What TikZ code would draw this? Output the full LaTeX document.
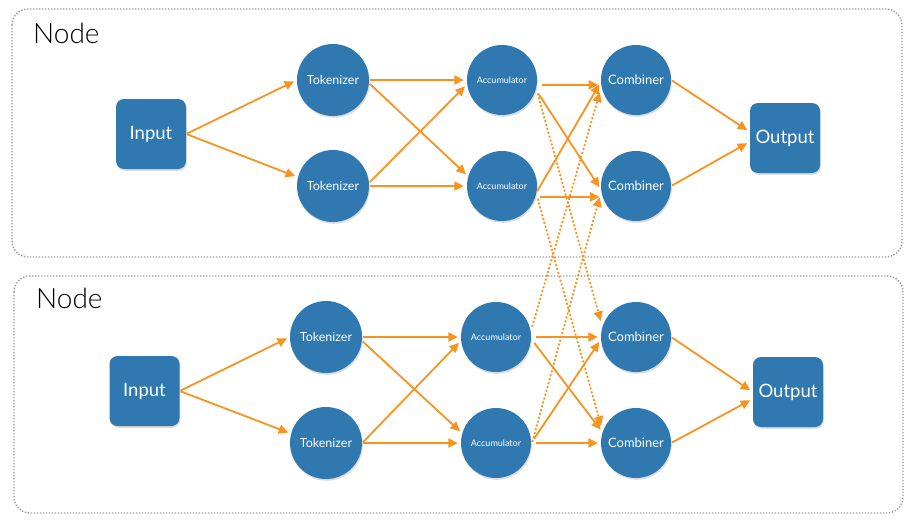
\documentclass[tikz,border=0pt]{standalone}
\usepackage{fontspec}
\setmainfont{Lato}
\newfontfamily\lightfont{Lato Light}
\usetikzlibrary{arrows.meta,shadows}
\definecolor{nodeblue}{RGB}{47,121,176}
\definecolor{arrorange}{RGB}{247,147,30}
\definecolor{framegray}{RGB}{150,150,150}
\tikzset{
  blk/.style={fill=nodeblue, text=white, drop shadow={opacity=0.28, shadow xshift=0.8pt, shadow yshift=-1.8pt}},
  tokc/.style={blk, circle, minimum size=72pt, inner sep=0pt, font=\fontsize{12.5}{14}\selectfont},
  accc/.style={blk, circle, minimum size=70pt, inner sep=0pt, font=\fontsize{9}{10}\selectfont},
  combc/.style={blk, circle, minimum size=70pt, inner sep=0pt, font=\fontsize{13}{15}\selectfont},
  sq/.style={blk, rectangle, rounded corners=8pt, minimum size=70pt, inner sep=0pt, font=\fontsize{18.5}{20}\selectfont},
  frame/.style={draw=framegray, line width=1.4pt, dash pattern=on 1.3pt off 1.7pt, rounded corners=16pt},
  title/.style={anchor=base west, inner sep=0pt, font=\lightfont\fontsize{28}{30}\selectfont},
  conn/.style={draw=arrorange, line width=1.8pt, -{Triangle[length=9.5pt,width=9pt]}, shorten <=1pt, shorten >=3pt},
  gap/.style={shorten <=5pt},
  dconn/.style={conn, dash pattern=on 2pt off 2pt, shorten >=6pt},
}
\begin{document}
\begin{tikzpicture}[x=1pt,y=-1pt]
\useasboundingbox (0,0) rectangle (909,522);
% containers
\draw[frame] (12,9) rectangle (902,257);
\draw[frame] (14,276) rectangle (903,513);
\node[title] (lab1) at (33,43) {Node};
\node[title] (lab2) at (36,308) {Node};
% top node
\node[sq] (in1) at (151,134) {Input};
\node[tokc] (tok1) at (333,80) {Tokenizer};
\node[tokc] (tok2) at (333,186) {Tokenizer};
\node[accc] (acc1) at (502,80) {Accumulator};
\node[accc] (acc2) at (502,186) {Accumulator};
\node[combc] (comb1) at (636,80) {Combiner};
\node[combc] (comb2) at (636,186) {Combiner};
\node[sq] (out1) at (785,138) {Output};
% bottom node
\node[sq] (in2) at (144.5,391) {Input};
\node[tokc] (tok3) at (326,337) {Tokenizer};
\node[tokc] (tok4) at (326,443) {Tokenizer};
\node[accc] (acc3) at (496,337) {Accumulator};
\node[accc] (acc4) at (496,443) {Accumulator};
\node[combc] (comb3) at (636,337) {Combiner};
\node[combc] (comb4) at (636,443) {Combiner};
\node[sq] (out2) at (788,392) {Output};
% top connectors
\draw[conn] (in1.east) -- (tok1.west);
\draw[conn] (in1.east) -- (tok2.166);
\draw[conn] (tok1.east) -- (acc1.west);
\draw[conn] (tok1.-5) -- (acc2.164);
\draw[conn] (tok2.5) -- (acc1.187);
\draw[conn] (tok2.east) -- (acc2.west);
\draw[conn,gap] (acc1.-8) -- (comb1.188);
\draw[conn,gap] (acc1.-16) -- (comb2.186);
\draw[conn] (acc2.-10) -- (comb1.183);
\draw[conn,gap] (acc2.-18) -- (comb2.198);
\draw[conn] (comb1.east) -- (out1.170);
\draw[conn] (comb2.east) -- (out1.186);
% bottom connectors
\draw[conn] (in2.east) -- (tok3.west);
\draw[conn] (in2.east) -- (tok4.165);
\draw[conn] (tok3.east) -- (acc3.west);
\draw[conn] (tok3.-6) -- (acc4.164);
\draw[conn] (tok4.east) -- (acc3.186);
\draw[conn] (tok4.east) -- (acc4.west);
\draw[conn,gap] (acc3.east) -- (comb3.west);
\draw[conn,gap] (acc3.-3) -- (comb4.162);
\draw[conn,gap] (acc4.east) -- (comb3.184);
\draw[conn,gap] (acc4.east) -- (comb4.west);
\draw[conn] (comb3.east) -- (out2.west);
\draw[conn] (comb4.east) -- (out2.191);
% cross-node dotted connectors
\draw[dconn,gap] (acc1.-14) -- (comb3.163);
\draw[dconn,gap] (acc2.-13) -- (comb4.161);
\draw[dconn,gap] (acc3.9) -- (comb1.191);
\draw[dconn,gap] (acc4.-6) -- (comb2.189);
\end{tikzpicture}
\end{document}
